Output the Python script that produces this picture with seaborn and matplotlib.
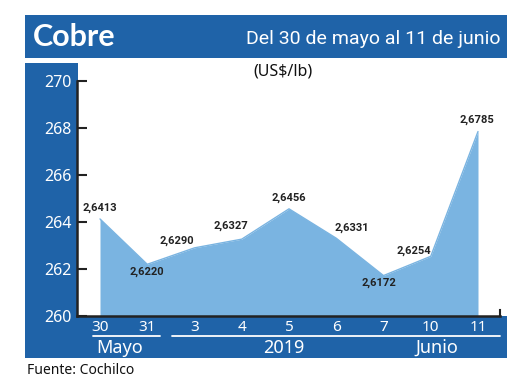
import matplotlib
matplotlib.use("Agg")
import matplotlib.pyplot as plt
import seaborn as sns
import numpy as np
from matplotlib.patches import Rectangle
from matplotlib.lines import Line2D

sns.set_style("white")

days = ["30", "31", "3", "4", "5", "6", "7", "10", "11"]
values = [264.13, 262.20, 262.90, 263.27, 264.56, 263.31, 261.72, 262.54, 267.85]
labels = ["2,6413", "2,6220", "2,6290", "2,6327", "2,6456", "2,6331", "2,6172", "2,6254", "2,6785"]
label_offsets = [(0, 11), (0, -8), (-18, 7), (-11, 13), (0, 11), (16, 10), (-5, -7), (-17, 5), (-1, 12)]
yticks = [260, 262, 264, 266, 268, 270]

W, H = 520, 390
DARK = "#1f63a8"
FILL = "#7ab4e1"
NARROW = ["Roboto", "DejaVu Sans"]
MAIN = ["Noto Sans", "DejaVu Sans"]

fig = plt.figure(figsize=(W / 100, H / 100), dpi=100)

def fx(px):
    return px / W

def fy(py):
    return 1 - py / H

# background bands
fig.add_artist(Rectangle((fx(25), fy(58)), fx(482), 43 / H, color=DARK, zorder=-2, lw=0))
fig.add_artist(Rectangle((fx(25), fy(358)), fx(53), 295 / H, color=DARK, zorder=-2, lw=0))
fig.add_artist(Rectangle((fx(25), fy(358)), fx(482), 42 / H, color=DARK, zorder=-2, lw=0))

ax = fig.add_axes([fx(77), fy(316), fx(423), 235 / H])
ax.patch.set_visible(False)
ax.set_zorder(1)

x = np.arange(len(values))
ax.fill_between(x, 260, values, color=FILL, lw=0, zorder=1)
sns.lineplot(x=x, y=values, color=FILL, lw=1, ax=ax, zorder=2)

for xi, v, lab, (dx, dy) in zip(x, values, labels, label_offsets):
    ax.annotate(lab, (xi, v), xytext=(dx, dy), textcoords="offset pixels",
                ha="center", va="center", fontsize=8, fontweight="bold",
                family=NARROW, color="#222222", zorder=3)

ax.set_xlim(-23 / 47.25, 8 + 22 / 47.25)
ax.set_ylim(260, 270)
ax.set_yticks(yticks)
ax.set_yticklabels([str(t) for t in yticks], color="white", fontsize=11.5, family=MAIN)
ax.set_xticks(x)
ax.set_xticklabels(days, color="white", fontsize=11, family=MAIN)
ax.tick_params(axis="y", direction="in", length=7, width=1.5, color="#222222", pad=4, left=True)
ax.tick_params(axis="x", length=0, pad=3)
ax.spines["top"].set_visible(False)
ax.spines["left"].set_color("#222222")
ax.spines["left"].set_linewidth(1.8)
ax.spines["bottom"].set_color("#222222")
ax.spines["bottom"].set_linewidth(1.8)
ax.spines["right"].set_color("#222222")
ax.spines["right"].set_linewidth(1.5)
ax.spines["right"].set_bounds(260, 260.25)
ax.set_xlabel("")
ax.set_ylabel("")

# underlines and month labels
fig.add_artist(Line2D([fx(93), fx(160)], [fy(336), fy(336)], color="white", lw=1.3))
fig.add_artist(Line2D([fx(172), fx(500)], [fy(336), fy(336)], color="white", lw=1.3))
fig.text(fx(120), fy(348), "Mayo", color="white", fontsize=13, ha="center", va="center", family=MAIN)
fig.text(fx(284), fy(348), "2019", color="white", fontsize=13, ha="center", va="center", family=MAIN)
fig.text(fx(437), fy(348), "Junio", color="white", fontsize=13, ha="center", va="center", family=MAIN)

# titles
fig.text(fx(33), fy(37), "Cobre", color="white", fontsize=22, fontweight="bold",
         ha="left", va="center", family=["Lato", "DejaVu Sans"])
fig.text(fx(501), fy(39), "Del 30 de mayo al 11 de junio", color="white", fontsize=14,
         ha="right", va="center", family=NARROW)
fig.text(fx(283), fy(72), "(US$/lb)", color="#111111", fontsize=11.5, ha="center", va="center", family=MAIN)
fig.text(fx(27), fy(370), "Fuente: Cochilco", color="#111111", fontsize=10, ha="left", va="center", family=MAIN)

fig.savefig("out.png", dpi=100, facecolor="white")
